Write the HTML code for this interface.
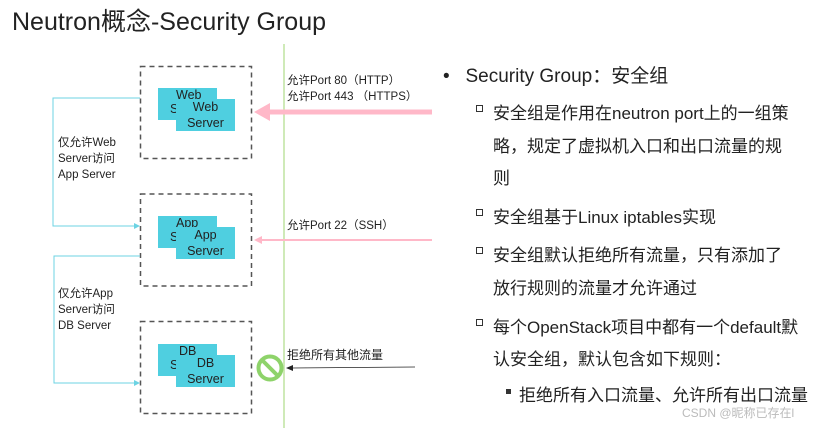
<!DOCTYPE html>
<html><head><meta charset="utf-8"><style>
body{margin:0;width:830px;height:428px;background:#fff;position:relative;overflow:hidden;font-family:"Liberation Sans","Noto Sans CJK SC",sans-serif;color:#222}
.a{position:absolute;white-space:nowrap}
.t{position:absolute;background:#4fcfe0;font-size:12.5px;color:#222}
.r{position:absolute;font-size:17px;left:493px}
.sq{position:absolute;left:476px;width:5px;height:5px;border:1px solid #333}
</style></head><body>
<div class="a" style="left:12px;top:2px;font-size:25px">Neutron概念-Security Group</div>
<svg style="position:absolute;left:0;top:0" width="830" height="428">
<g fill="none" stroke="#555" stroke-width="1.5" stroke-dasharray="5,4">
<rect x="140.5" y="66.5" width="111" height="92"/>
<rect x="140.5" y="194" width="111" height="92"/>
<rect x="140.5" y="321.5" width="111" height="92"/>
</g>
<line x1="284" y1="44" x2="284" y2="428" stroke="#bfe3a0" stroke-width="1.5"/>
<polyline points="140,98 53,98 53,226 135,226" fill="none" stroke="#6cd3e3" stroke-width="1"/>
<polygon points="140,226 134,223 134,229" fill="#6cd3e3"/>
<polyline points="140,256 54,256 54,383 135,383" fill="none" stroke="#6cd3e3" stroke-width="1"/>
<polygon points="140,383 134,380 134,386" fill="#6cd3e3"/>
<line x1="268" y1="112" x2="432" y2="112" stroke="#ffb8c8" stroke-width="5"/>
<polygon points="254,112 270,103 270,121" fill="#ffb8c8"/>
<line x1="260" y1="240" x2="432" y2="240" stroke="#ffb8c8" stroke-width="2"/>
<polygon points="254,240 262,236 262,244" fill="#ffb8c8"/>
<line x1="292" y1="368" x2="415" y2="367" stroke="#222" stroke-width="0.8"/>
<polygon points="286,368 293,365 293,371" fill="#222"/>
<circle cx="270" cy="368" r="11.5" fill="none" stroke="#8ed36a" stroke-width="4"/>
<line x1="262" y1="360" x2="278" y2="376" stroke="#8ed36a" stroke-width="4"/>
</svg>
<div class="t" style="left:158px;top:88px;width:59px;height:32px"><span style="position:absolute;left:18px;top:0">Web</span><span style="position:absolute;left:12px;top:14px">S</span></div>
<div class="t" style="left:176px;top:99px;width:59px;height:32px;text-align:center;line-height:16px">Web<br>Server</div>
<div class="t" style="left:158px;top:216px;width:59px;height:32px"><span style="position:absolute;left:18px;top:0">App</span><span style="position:absolute;left:12px;top:14px">S</span></div>
<div class="t" style="left:176px;top:227px;width:59px;height:32px;text-align:center;line-height:16px">App<br>Server</div>
<div class="t" style="left:158px;top:344px;width:59px;height:32px"><span style="position:absolute;left:21px;top:0">DB</span><span style="position:absolute;left:12px;top:14px">S</span></div>
<div class="t" style="left:176px;top:355px;width:59px;height:32px;text-align:center;line-height:16px">DB<br>Server</div>
<div class="a" style="left:58px;top:135px;font-size:11.5px;line-height:16px">仅允许Web<br>Server访问<br>App Server</div>
<div class="a" style="left:58px;top:286px;font-size:11.5px;line-height:16px">仅允许App<br>Server访问<br>DB Server</div>
<div class="a" style="left:287px;top:73px;font-size:11.5px;line-height:16px">允许Port 80（HTTP）<br>允许Port 443 （HTTPS）</div>
<div class="a" style="left:287px;top:217px;font-size:11.5px">允许Port 22（SSH）</div>
<div class="a" style="left:287px;top:346px;font-size:12px">拒绝所有其他流量</div>
<div class="a" style="left:443px;top:61px;font-size:19px">•&nbsp;&nbsp;&nbsp;Security Group：安全组</div>
<div class="sq" style="top:105px"></div><div class="r" style="top:99px">安全组是作用在neutron port上的一组策</div>
<div class="r" style="top:132px">略，规定了虚拟机入口和出口流量的规</div>
<div class="r" style="top:164px">则</div>
<div class="sq" style="top:209px"></div><div class="r" style="top:203px">安全组基于Linux iptables实现</div>
<div class="sq" style="top:247px"></div><div class="r" style="top:241px">安全组默认拒绝所有流量，只有添加了</div>
<div class="r" style="top:274px">放行规则的流量才允许通过</div>
<div class="sq" style="top:319px"></div><div class="r" style="top:313px">每个OpenStack项目中都有一个default默</div>
<div class="r" style="top:345px">认安全组，默认包含如下规则：</div>
<div class="a" style="left:506px;top:389px;width:5px;height:5px;background:#333"></div>
<div class="r" style="left:519px;top:381px">拒绝所有入口流量、允许所有出口流量</div>
<div class="a" style="left:682px;top:404px;font-size:12px;color:#bbb">CSDN @昵称已存在l</div>
</body></html>
